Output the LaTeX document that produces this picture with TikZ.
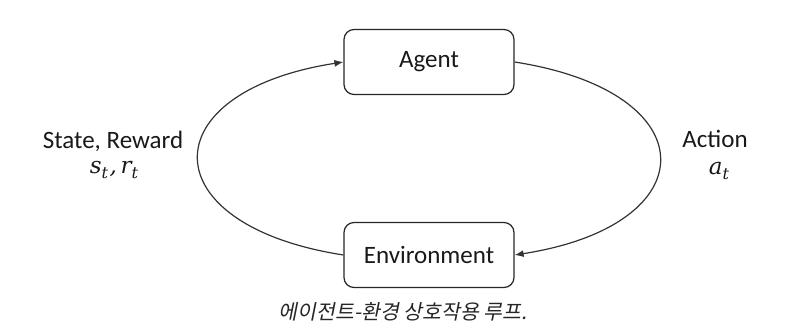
\documentclass[tikz,border=0pt]{standalone}
\usepackage{fontspec}
\setmainfont{Carlito}
\newfontfamily\krfont[FakeSlant=0.2]{Noto Sans CJK KR}
\newfontfamily\mvar{DejaVu Serif}
\newcommand{\mv}[1]{{\mvar\itshape\fontsize{23}{28}\selectfont #1}}
\newcommand{\msub}[1]{\raisebox{-4.5pt}{\mvar\itshape\fontsize{16}{19}\selectfont #1}}
\usetikzlibrary{arrows.meta}
\begin{document}
\begin{tikzpicture}[x=1pt,y=-1pt,
  box/.style={draw=black!85,line width=1.2pt,rounded corners=10pt,minimum width=170pt,minimum height=65pt,inner sep=0pt,font=\fontsize{25}{30}\selectfont,text=black!90},
  lbl/.style={font=\fontsize{25}{30}\selectfont,text=black!90,align=center,inner sep=0pt},
  conn/.style={draw=black!80,line width=1.2pt,-{Latex[length=9pt,width=7pt]}}]
\useasboundingbox (0,0) rectangle (788,336);
\node[box] (agent) at (429,62) {Agent};
\node[box] (env) at (429,255) {Environment};
\draw[conn] (env.west) .. controls (150,225) and (150,92) .. (agent.west);
\draw[conn] (agent.east) .. controls (708,92) and (708,225) .. (env.east);
\node[lbl,anchor=base] (st) at (113,149) {State, Reward};
\node[lbl,anchor=base] (str) at (114,174) {\mv{s}\msub{t}\hspace{1.5pt}\mv{,\,r}\msub{t}};
\node[lbl,anchor=base] (ac) at (715,148) {Action};
\node[lbl,anchor=base] (at) at (719,175) {\mv{a}\msub{t}};
\node[anchor=base,inner sep=0pt,text=black!85,font=\krfont\fontsize{20.5}{24}\selectfont] (cap) at (403,320) {에이전트-환경 상호작용 루프.};
\end{tikzpicture}
\end{document}
